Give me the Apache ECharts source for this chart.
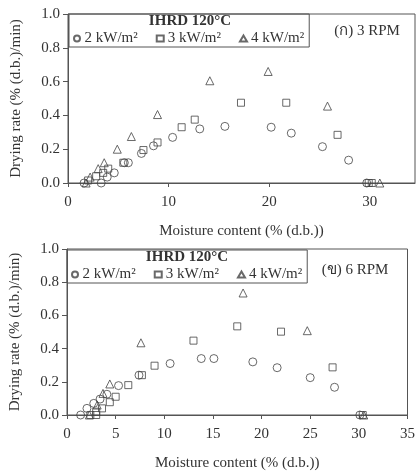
<!DOCTYPE html>
<html>
<head>
<meta charset="utf-8">
<script src="https://cdn.jsdelivr.net/npm/echarts@6.0.0/dist/echarts.min.js"></script>
<style>
    html, body { margin: 0; padding: 0; background: #fff; }
    #main { width: 418px; height: 472px; }
</style>
</head>
<body>
<div id="main"></div>
<script>
// 图例名称
const seriesNames = ['2 kW/m²', '3 kW/m²', '4 kW/m²'];

// (ก) 3 RPM  [含水率, 干燥速率]
const rpm3_2kw = [[1.6, 0], [3.3, 0], [3.9, 0.035], [4.6, 0.06], [5.6, 0.12], [6.0, 0.12], [7.3, 0.175], [8.5, 0.22], [10.4, 0.27], [13.1, 0.32], [15.6, 0.335], [20.2, 0.33], [22.2, 0.295], [25.3, 0.215], [27.9, 0.135], [29.7, 0]];
const rpm3_3kw = [[2.0, 0.015], [2.8, 0.04], [3.5, 0.06], [4.0, 0.085], [5.5, 0.12], [7.5, 0.195], [8.9, 0.24], [11.3, 0.33], [12.6, 0.375], [17.2, 0.475], [21.7, 0.475], [26.8, 0.285], [29.9, 0], [30.2, 0]];
const rpm3_4kw = [[1.8, 0], [2.2, 0.035], [3.0, 0.085], [3.6, 0.12], [4.9, 0.2], [6.3, 0.275], [8.9, 0.405], [14.1, 0.605], [19.9, 0.66], [25.8, 0.455], [31.0, 0]];

// (ข) 6 RPM
const rpm6_2kw = [[1.4, 0], [2.05, 0.04], [2.75, 0.07], [3.4, 0.096], [4.1, 0.125], [5.3, 0.177], [7.4, 0.24], [10.6, 0.31], [13.8, 0.34], [15.1, 0.34], [19.1, 0.32], [21.6, 0.285], [25.0, 0.225], [27.5, 0.167], [30.1, 0]];
const rpm6_3kw = [[2.4, 0], [3.0, 0], [3.0, 0.02], [3.6, 0.04], [4.4, 0.077], [5.0, 0.11], [6.3, 0.18], [7.7, 0.24], [9.0, 0.297], [13.0, 0.448], [17.5, 0.534], [22.0, 0.502], [27.3, 0.287], [30.4, 0]];
const rpm6_4kw = [[2.3, 0], [3.1, 0.06], [3.7, 0.13], [4.4, 0.187], [7.6, 0.435], [18.1, 0.735], [24.7, 0.508], [30.5, 0]];

const FONT = "'Liberation Serif', 'DejaVu Serif', serif";
const INK = '#333';

// 公共坐标轴样式
function xAxisOf(gridIndex, max, interval) {
    return {
        type: 'value', gridIndex: gridIndex, min: 0, max: max, interval: interval,
        name: 'Moisture content (% (d.b.))', nameLocation: 'middle', nameGap: 41,
        nameTextStyle: { fontFamily: FONT, fontSize: 15, color: INK },
        axisLine: { onZero: false, lineStyle: { color: '#555' } },
        axisTick: { length: 4, lineStyle: { color: '#555' } },
        axisLabel: { fontFamily: FONT, fontSize: 15, color: INK, margin: 12, showMaxLabel: max % interval === 0 },
        splitLine: { show: false }
    };
}
function yAxisOf(gridIndex) {
    return {
        type: 'value', gridIndex: gridIndex, min: 0, max: 1, interval: 0.2,
        name: 'Drying rate (% (d.b.)/min)', nameLocation: 'middle', nameGap: 44,
        nameTextStyle: { fontFamily: FONT, fontSize: 15, color: INK },
        axisLine: { show: true, lineStyle: { color: '#555' } },
        axisTick: { show: true, length: 5, lineStyle: { color: '#555' } },
        axisLabel: { fontFamily: FONT, fontSize: 15, color: INK, margin: 8, formatter: v => v.toFixed(1) },
        splitLine: { show: false }
    };
}

const symbols = ['circle', 'rect', 'triangle'];
const sizes = [8, 7, 8];
function scatterOf(i, data, axisIndex) {
    return {
        name: seriesNames[i], type: 'scatter', data: data,
        xAxisIndex: axisIndex, yAxisIndex: axisIndex,
        symbol: symbols[i], symbolSize: sizes[i],
        itemStyle: { color: 'rgba(255,255,255,0)', borderColor: '#444', borderWidth: 1 }
    };
}

function legendOf(left, top) {
    return {
        data: seriesNames, left: left, top: top, orient: 'horizontal',
        itemWidth: 7, itemHeight: 6, itemGap: 18,
        padding: [17, 5, 1, 4],
        borderColor: '#555', borderWidth: 1,
        textStyle: { fontFamily: FONT, fontSize: 15, color: INK, padding: [0, 0, 0, -1] }
    };
}

const myChart = echarts.init(document.getElementById('main'));
const option = {
    animation: false,
    backgroundColor: '#fff',
    grid: [
        { left: 68, top: 14, width: 347, height: 169, show: true, borderColor: '#555', borderWidth: 1 },
        { left: 64, top: 249, width: 346, height: 166, show: true, borderColor: '#555', borderWidth: 1 }
    ],
    title: [
        { text: 'IHRD 120°C', left: 190, top: 14, textAlign: 'center', padding: 0,
          textStyle: { fontFamily: FONT, fontSize: 15, fontWeight: 'bold', color: INK } },
        { text: '(ก) 3 RPM', left: 367, top: 24, textAlign: 'center', padding: 0,
          textStyle: { fontFamily: FONT, fontSize: 15, fontWeight: 'normal', color: INK } },
        { text: 'IHRD 120°C', left: 187, top: 250, textAlign: 'center', padding: 0,
          textStyle: { fontFamily: FONT, fontSize: 15, fontWeight: 'bold', color: INK } },
        { text: '(ข) 6 RPM', left: 355, top: 263, textAlign: 'center', padding: 0,
          textStyle: { fontFamily: FONT, fontSize: 15, fontWeight: 'normal', color: INK } }
    ],
    legend: [legendOf(69, 14), legendOf(67, 250)],
    xAxis: [xAxisOf(0, 34.5, 10), xAxisOf(1, 35, 5)],
    yAxis: [yAxisOf(0), yAxisOf(1)],
    series: [
        scatterOf(0, rpm3_2kw, 0),
        scatterOf(1, rpm3_3kw, 0),
        scatterOf(2, rpm3_4kw, 0),
        scatterOf(0, rpm6_2kw, 1),
        scatterOf(1, rpm6_3kw, 1),
        scatterOf(2, rpm6_4kw, 1)
    ]
};
myChart.setOption(option);
</script>
</body>
</html>
